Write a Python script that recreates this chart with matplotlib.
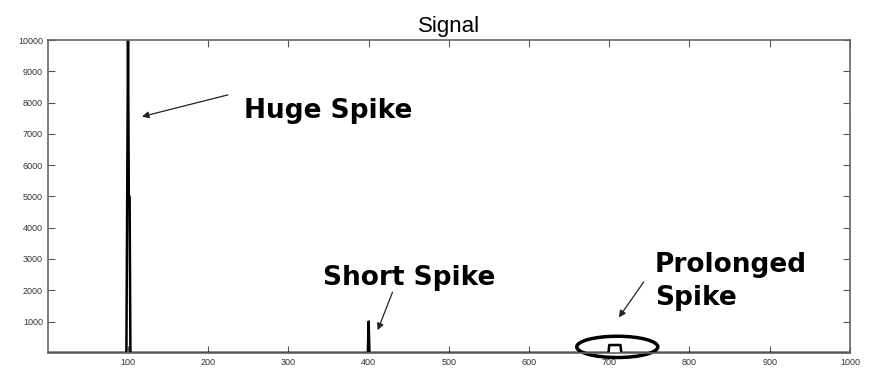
import numpy as np
import matplotlib
matplotlib.use("Agg")
import matplotlib.pyplot as plt
from matplotlib.patches import Ellipse

# signal samples
spike_pos = [99, 100, 101, 102, 400]
spike_val = [5000, 10000, 5000, 5000, 1000]
plateau_start = 700
plateau_end = 714
plateau_val = 250
n_samples = 1000

x = np.arange(0, n_samples + 1)
y = np.zeros_like(x, dtype=float)
for p, v in zip(spike_pos, spike_val):
    y[p] = v
y[plateau_start:plateau_end + 1] = plateau_val

xticks = [100, 200, 300, 400, 500, 600, 700, 800, 900, 1000]
yticks = [1000, 2000, 3000, 4000, 5000, 6000, 7000, 8000, 9000, 10000]

fig = plt.figure(figsize=(8.69, 3.71), dpi=100)
ax = fig.add_axes([0.055, 0.049, 0.923, 0.843])

ax.plot(x, y, color="black", lw=1.8)
ax.set_xlim(0, 1000)
ax.set_ylim(0, 10000)
ax.set_xticks(xticks)
ax.set_yticks(yticks)
ax.tick_params(direction="in", labelsize=6.5, length=5, colors="#555555",
               top=True, right=True, labelcolor="#333333")
for lab in ax.get_xticklabels() + ax.get_yticklabels():
    lab.set_family("Liberation Sans")
for s in ax.spines.values():
    s.set_color("#666666")
    s.set_linewidth(1.2)
ax.set_title("Signal", fontsize=16, pad=6, family="Liberation Sans")

ell = Ellipse((710, 190), 101, 680, fill=False, lw=2.5, color="black", clip_on=False)
ax.add_patch(ell)

# annotations
arrow = dict(arrowstyle="-|>", color="#222222", lw=0.9, mutation_scale=10)
bold = dict(fontsize=19, fontweight="bold", va="baseline")

ax.annotate("", xy=(114, 7530), xytext=(228, 8270), arrowprops=arrow)
ax.text(245, 7510, "Huge Spike", **bold)

ax.annotate("", xy=(410, 640), xytext=(431, 2020), arrowprops=arrow)
ax.text(343, 2170, "Short Spike", **bold)

ax.annotate("", xy=(710, 1060), xytext=(745, 2340), arrowprops=arrow)
ax.text(757, 2590, "Prolonged", **bold)
ax.text(757, 1530, "Spike", **bold)

fig.savefig("out.png", dpi=100)
